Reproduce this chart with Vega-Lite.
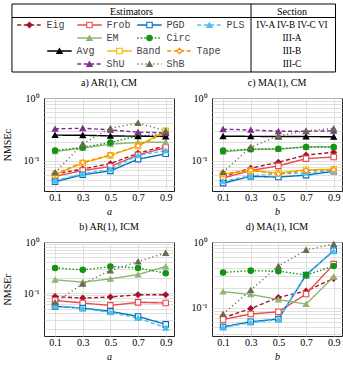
{
  "$schema": "https://vega.github.io/schema/vega-lite/v6.json",
  "padding": {"left": 2, "top": 3, "right": 0, "bottom": 0},
  "datasets": {
    "leg": [
      {"e": "Eig", "s": "IV-A IV-B IV-C VI"},
      {"e": "Frob", "s": "IV-A IV-B IV-C VI"},
      {"e": "PGD", "s": "IV-A IV-B IV-C VI"},
      {"e": "PLS", "s": "IV-A IV-B IV-C VI"},
      {"e": "EM", "s": "III-A"},
      {"e": "Circ", "s": "III-A"},
      {"e": "Avg", "s": "III-B"},
      {"e": "Band", "s": "III-B"},
      {"e": "Tape", "s": "III-B"},
      {"e": "ShU", "s": "III-C"},
      {"e": "ShB", "s": "III-C"}
    ],
    "main": [
      {"p": "a", "e": "Eig", "x": 0.1, "v": 0.062}, {"p": "a", "e": "Eig", "x": 0.3, "v": 0.074}, {"p": "a", "e": "Eig", "x": 0.5, "v": 0.09}, {"p": "a", "e": "Eig", "x": 0.7, "v": 0.132}, {"p": "a", "e": "Eig", "x": 0.9, "v": 0.173},
      {"p": "a", "e": "Frob", "x": 0.1, "v": 0.0565}, {"p": "a", "e": "Frob", "x": 0.3, "v": 0.07}, {"p": "a", "e": "Frob", "x": 0.5, "v": 0.081}, {"p": "a", "e": "Frob", "x": 0.7, "v": 0.124}, {"p": "a", "e": "Frob", "x": 0.9, "v": 0.163},
      {"p": "a", "e": "PGD", "x": 0.1, "v": 0.0464}, {"p": "a", "e": "PGD", "x": 0.3, "v": 0.06}, {"p": "a", "e": "PGD", "x": 0.5, "v": 0.069}, {"p": "a", "e": "PGD", "x": 0.7, "v": 0.106}, {"p": "a", "e": "PGD", "x": 0.9, "v": 0.129},
      {"p": "a", "e": "PLS", "x": 0.1, "v": 0.048}, {"p": "a", "e": "PLS", "x": 0.3, "v": 0.062}, {"p": "a", "e": "PLS", "x": 0.5, "v": 0.073}, {"p": "a", "e": "PLS", "x": 0.7, "v": 0.122}, {"p": "a", "e": "PLS", "x": 0.9, "v": 0.145},
      {"p": "a", "e": "EM", "x": 0.1, "v": 0.141}, {"p": "a", "e": "EM", "x": 0.3, "v": 0.159}, {"p": "a", "e": "EM", "x": 0.5, "v": 0.184}, {"p": "a", "e": "EM", "x": 0.7, "v": 0.196}, {"p": "a", "e": "EM", "x": 0.9, "v": 0.198},
      {"p": "a", "e": "Circ", "x": 0.1, "v": 0.146}, {"p": "a", "e": "Circ", "x": 0.3, "v": 0.163}, {"p": "a", "e": "Circ", "x": 0.5, "v": 0.196}, {"p": "a", "e": "Circ", "x": 0.7, "v": 0.249}, {"p": "a", "e": "Circ", "x": 0.9, "v": 0.262},
      {"p": "a", "e": "Avg", "x": 0.1, "v": 0.256}, {"p": "a", "e": "Avg", "x": 0.3, "v": 0.255}, {"p": "a", "e": "Avg", "x": 0.5, "v": 0.249}, {"p": "a", "e": "Avg", "x": 0.7, "v": 0.246}, {"p": "a", "e": "Avg", "x": 0.9, "v": 0.244},
      {"p": "a", "e": "Band", "x": 0.1, "v": 0.06}, {"p": "a", "e": "Band", "x": 0.3, "v": 0.092}, {"p": "a", "e": "Band", "x": 0.5, "v": 0.122}, {"p": "a", "e": "Band", "x": 0.7, "v": 0.172}, {"p": "a", "e": "Band", "x": 0.9, "v": 0.3},
      {"p": "a", "e": "Tape", "x": 0.1, "v": 0.062}, {"p": "a", "e": "Tape", "x": 0.3, "v": 0.094}, {"p": "a", "e": "Tape", "x": 0.5, "v": 0.124}, {"p": "a", "e": "Tape", "x": 0.7, "v": 0.173}, {"p": "a", "e": "Tape", "x": 0.9, "v": 0.28},
      {"p": "a", "e": "ShU", "x": 0.1, "v": 0.322}, {"p": "a", "e": "ShU", "x": 0.3, "v": 0.33}, {"p": "a", "e": "ShU", "x": 0.5, "v": 0.31}, {"p": "a", "e": "ShU", "x": 0.7, "v": 0.285}, {"p": "a", "e": "ShU", "x": 0.9, "v": 0.278},
      {"p": "a", "e": "ShB", "x": 0.1, "v": 0.065}, {"p": "a", "e": "ShB", "x": 0.3, "v": 0.186}, {"p": "a", "e": "ShB", "x": 0.5, "v": 0.33}, {"p": "a", "e": "ShB", "x": 0.7, "v": 0.4}, {"p": "a", "e": "ShB", "x": 0.9, "v": 0.3},

      {"p": "c", "e": "Eig", "x": 0.1, "v": 0.0565}, {"p": "c", "e": "Eig", "x": 0.3, "v": 0.076}, {"p": "c", "e": "Eig", "x": 0.5, "v": 0.095}, {"p": "c", "e": "Eig", "x": 0.7, "v": 0.123}, {"p": "c", "e": "Eig", "x": 0.9, "v": 0.137},
      {"p": "c", "e": "Frob", "x": 0.1, "v": 0.053}, {"p": "c", "e": "Frob", "x": 0.3, "v": 0.07}, {"p": "c", "e": "Frob", "x": 0.5, "v": 0.083}, {"p": "c", "e": "Frob", "x": 0.7, "v": 0.108}, {"p": "c", "e": "Frob", "x": 0.9, "v": 0.115},
      {"p": "c", "e": "PGD", "x": 0.1, "v": 0.044}, {"p": "c", "e": "PGD", "x": 0.3, "v": 0.0565}, {"p": "c", "e": "PGD", "x": 0.5, "v": 0.055}, {"p": "c", "e": "PGD", "x": 0.7, "v": 0.059}, {"p": "c", "e": "PGD", "x": 0.9, "v": 0.068},
      {"p": "c", "e": "PLS", "x": 0.1, "v": 0.047}, {"p": "c", "e": "PLS", "x": 0.3, "v": 0.058}, {"p": "c", "e": "PLS", "x": 0.5, "v": 0.062}, {"p": "c", "e": "PLS", "x": 0.7, "v": 0.064}, {"p": "c", "e": "PLS", "x": 0.9, "v": 0.07},
      {"p": "c", "e": "EM", "x": 0.1, "v": 0.139}, {"p": "c", "e": "EM", "x": 0.3, "v": 0.152}, {"p": "c", "e": "EM", "x": 0.5, "v": 0.153}, {"p": "c", "e": "EM", "x": 0.7, "v": 0.167}, {"p": "c", "e": "EM", "x": 0.9, "v": 0.167},
      {"p": "c", "e": "Circ", "x": 0.1, "v": 0.145}, {"p": "c", "e": "Circ", "x": 0.3, "v": 0.153}, {"p": "c", "e": "Circ", "x": 0.5, "v": 0.155}, {"p": "c", "e": "Circ", "x": 0.7, "v": 0.165}, {"p": "c", "e": "Circ", "x": 0.9, "v": 0.165},
      {"p": "c", "e": "Avg", "x": 0.1, "v": 0.246}, {"p": "c", "e": "Avg", "x": 0.3, "v": 0.245}, {"p": "c", "e": "Avg", "x": 0.5, "v": 0.243}, {"p": "c", "e": "Avg", "x": 0.7, "v": 0.243}, {"p": "c", "e": "Avg", "x": 0.9, "v": 0.241},
      {"p": "c", "e": "Band", "x": 0.1, "v": 0.0615}, {"p": "c", "e": "Band", "x": 0.3, "v": 0.069}, {"p": "c", "e": "Band", "x": 0.5, "v": 0.064}, {"p": "c", "e": "Band", "x": 0.7, "v": 0.072}, {"p": "c", "e": "Band", "x": 0.9, "v": 0.073},
      {"p": "c", "e": "Tape", "x": 0.1, "v": 0.062}, {"p": "c", "e": "Tape", "x": 0.3, "v": 0.071}, {"p": "c", "e": "Tape", "x": 0.5, "v": 0.062}, {"p": "c", "e": "Tape", "x": 0.7, "v": 0.07}, {"p": "c", "e": "Tape", "x": 0.9, "v": 0.072},
      {"p": "c", "e": "ShU", "x": 0.1, "v": 0.318}, {"p": "c", "e": "ShU", "x": 0.3, "v": 0.31}, {"p": "c", "e": "ShU", "x": 0.5, "v": 0.295}, {"p": "c", "e": "ShU", "x": 0.7, "v": 0.295}, {"p": "c", "e": "ShU", "x": 0.9, "v": 0.3},
      {"p": "c", "e": "ShB", "x": 0.1, "v": 0.066}, {"p": "c", "e": "ShB", "x": 0.3, "v": 0.165}, {"p": "c", "e": "ShB", "x": 0.5, "v": 0.249}, {"p": "c", "e": "ShB", "x": 0.7, "v": 0.3}, {"p": "c", "e": "ShB", "x": 0.9, "v": 0.327},

      {"p": "b", "e": "Eig", "x": 0.1, "v": 0.086}, {"p": "b", "e": "Eig", "x": 0.3, "v": 0.08}, {"p": "b", "e": "Eig", "x": 0.5, "v": 0.084}, {"p": "b", "e": "Eig", "x": 0.7, "v": 0.093}, {"p": "b", "e": "Eig", "x": 0.9, "v": 0.093},
      {"p": "b", "e": "Frob", "x": 0.1, "v": 0.072}, {"p": "b", "e": "Frob", "x": 0.3, "v": 0.064}, {"p": "b", "e": "Frob", "x": 0.5, "v": 0.0575}, {"p": "b", "e": "Frob", "x": 0.7, "v": 0.066}, {"p": "b", "e": "Frob", "x": 0.9, "v": 0.064},
      {"p": "b", "e": "PGD", "x": 0.1, "v": 0.055}, {"p": "b", "e": "PGD", "x": 0.3, "v": 0.051}, {"p": "b", "e": "PGD", "x": 0.5, "v": 0.044}, {"p": "b", "e": "PGD", "x": 0.7, "v": 0.035}, {"p": "b", "e": "PGD", "x": 0.9, "v": 0.0245},
      {"p": "b", "e": "PLS", "x": 0.1, "v": 0.057}, {"p": "b", "e": "PLS", "x": 0.3, "v": 0.05}, {"p": "b", "e": "PLS", "x": 0.5, "v": 0.042}, {"p": "b", "e": "PLS", "x": 0.7, "v": 0.0326}, {"p": "b", "e": "PLS", "x": 0.9, "v": 0.021},
      {"p": "b", "e": "EM", "x": 0.1, "v": 0.182}, {"p": "b", "e": "EM", "x": 0.3, "v": 0.164}, {"p": "b", "e": "EM", "x": 0.5, "v": 0.19}, {"p": "b", "e": "EM", "x": 0.7, "v": 0.231}, {"p": "b", "e": "EM", "x": 0.9, "v": 0.331},
      {"p": "b", "e": "Circ", "x": 0.1, "v": 0.311}, {"p": "b", "e": "Circ", "x": 0.3, "v": 0.285}, {"p": "b", "e": "Circ", "x": 0.5, "v": 0.331}, {"p": "b", "e": "Circ", "x": 0.7, "v": 0.311}, {"p": "b", "e": "Circ", "x": 0.9, "v": 0.245},
      {"p": "b", "e": "ShB", "x": 0.1, "v": 0.066}, {"p": "b", "e": "ShB", "x": 0.3, "v": 0.152}, {"p": "b", "e": "ShB", "x": 0.5, "v": 0.277}, {"p": "b", "e": "ShB", "x": 0.7, "v": 0.415}, {"p": "b", "e": "ShB", "x": 0.9, "v": 0.61},

      {"p": "d", "e": "Eig", "x": 0.1, "v": 0.07}, {"p": "d", "e": "Eig", "x": 0.3, "v": 0.097}, {"p": "d", "e": "Eig", "x": 0.5, "v": 0.143}, {"p": "d", "e": "Eig", "x": 0.7, "v": 0.179}, {"p": "d", "e": "Eig", "x": 0.9, "v": 0.279},
      {"p": "d", "e": "Frob", "x": 0.1, "v": 0.066}, {"p": "d", "e": "Frob", "x": 0.3, "v": 0.08}, {"p": "d", "e": "Frob", "x": 0.5, "v": 0.0865}, {"p": "d", "e": "Frob", "x": 0.7, "v": 0.161}, {"p": "d", "e": "Frob", "x": 0.9, "v": 0.46},
      {"p": "d", "e": "PGD", "x": 0.1, "v": 0.051}, {"p": "d", "e": "PGD", "x": 0.3, "v": 0.061}, {"p": "d", "e": "PGD", "x": 0.5, "v": 0.067}, {"p": "d", "e": "PGD", "x": 0.7, "v": 0.313}, {"p": "d", "e": "PGD", "x": 0.9, "v": 0.74},
      {"p": "d", "e": "PLS", "x": 0.1, "v": 0.05}, {"p": "d", "e": "PLS", "x": 0.3, "v": 0.059}, {"p": "d", "e": "PLS", "x": 0.5, "v": 0.066}, {"p": "d", "e": "PLS", "x": 0.7, "v": 0.32}, {"p": "d", "e": "PLS", "x": 0.9, "v": 0.72},
      {"p": "d", "e": "EM", "x": 0.1, "v": 0.175}, {"p": "d", "e": "EM", "x": 0.3, "v": 0.159}, {"p": "d", "e": "EM", "x": 0.5, "v": 0.133}, {"p": "d", "e": "EM", "x": 0.7, "v": 0.113}, {"p": "d", "e": "EM", "x": 0.9, "v": 0.296},
      {"p": "d", "e": "Circ", "x": 0.1, "v": 0.344}, {"p": "d", "e": "Circ", "x": 0.3, "v": 0.366}, {"p": "d", "e": "Circ", "x": 0.5, "v": 0.36}, {"p": "d", "e": "Circ", "x": 0.7, "v": 0.313}, {"p": "d", "e": "Circ", "x": 0.9, "v": 0.43},
      {"p": "d", "e": "ShB", "x": 0.1, "v": 0.08}, {"p": "d", "e": "ShB", "x": 0.3, "v": 0.185}, {"p": "d", "e": "ShB", "x": 0.5, "v": 0.43}, {"p": "d", "e": "ShB", "x": 0.7, "v": 0.755}, {"p": "d", "e": "ShB", "x": 0.9, "v": 0.93}
    ]
  },
  "data": {"name": "main"},
  "vconcat": [
    {
      "data": {"name": "leg"},
      "width": 292,
      "height": 68,
      "view": {"stroke": null},
      "transform": [
        {"window": [{"op": "row_number", "as": "r"}], "groupby": ["s"]},
        {"joinaggregate": [{"op": "count", "as": "n"}], "groupby": ["s"]},
        {"calculate": "datum.r - (datum.n + 1) / 2", "as": "k"}
      ],
      "layer": [
        {
          "mark": {"type": "point", "shape": "M-1,0L1,0", "size": 600, "strokeWidth": 1.5, "filled": false, "opacity": 1},
          "encoding": {
            "x": {"field": "k", "type": "quantitative", "scale": {"domain": [-1.258, 3.608], "nice": false, "zero": false}, "axis": null},
            "y": {"field": "s", "type": "ordinal", "scale": {"type": "point", "domain": ["H", "IV-A IV-B IV-C VI", "III-A", "III-B", "III-C"], "padding": 0.615}, "axis": null},
            "stroke": {"field": "e", "type": "nominal", "legend": null, "scale": {"domain": ["Eig","Frob","PGD","PLS","EM","Circ","Avg","Band","Tape","ShU","ShB"], "range": ["#a2142f","#ec4b4b","#0072bd","#4dbeee","#8fb573","#129412","#000000","#f5b800","#fb8c00","#7e2f8e","#6b6b4f"]}},
            "strokeDash": {"field": "e", "type": "nominal", "legend": null, "scale": {"domain": ["Eig","Frob","PGD","PLS","EM","Circ","Avg","Band","Tape","ShU","ShB"], "range": [[4,2.5],[1,0],[1,0],[4,2.5],[1,0],[1.5,2],[1,0],[1,0],[4,2.5],[4,2.5],[1.2,2.8]]}}
          }
        },
        {
          "mark": {"type": "point", "filled": true, "size": 30, "strokeWidth": 1.1, "opacity": 1},
          "encoding": {
            "x": {"field": "k", "type": "quantitative", "scale": {"domain": [-1.258, 3.608], "nice": false, "zero": false}, "axis": null},
            "y": {"field": "s", "type": "ordinal", "scale": {"type": "point", "domain": ["H", "IV-A IV-B IV-C VI", "III-A", "III-B", "III-C"], "padding": 0.615}, "axis": null},
            "stroke": {"field": "e", "type": "nominal", "legend": null, "scale": {"domain": ["Eig","Frob","PGD","PLS","EM","Circ","Avg","Band","Tape","ShU","ShB"], "range": ["#a2142f","#ec4b4b","#0072bd","#4dbeee","#8fb573","#129412","#000000","#f5b800","#fb8c00","#7e2f8e","#6b6b4f"]}},
            "fill": {"field": "e", "type": "nominal", "legend": null, "scale": {"domain": ["Eig","Frob","PGD","PLS","EM","Circ","Avg","Band","Tape","ShU","ShB"], "range": ["#a2142f","#ffffff","#ffffff","#4dbeee","#8fb573","#129412","#000000","#ffffff","#ffffff","#7e2f8e","#6b6b4f"]}},
            "shape": {"field": "e", "type": "nominal", "legend": null, "scale": {"domain": ["Eig","Frob","PGD","PLS","EM","Circ","Avg","Band","Tape","ShU","ShB"], "range": ["diamond","square","square","triangle-up","triangle-up","circle","triangle-up","square","diamond","triangle-up","triangle-up"]}}
          }
        },
        {
          "mark": {"type": "text", "align": "left", "baseline": "middle", "dx": 17, "font": "Liberation Mono", "fontSize": 10, "fill": "#444"},
          "encoding": {
            "x": {"field": "k", "type": "quantitative", "scale": {"domain": [-1.258, 3.608], "nice": false, "zero": false}, "axis": null},
            "y": {"field": "s", "type": "ordinal", "scale": {"type": "point", "domain": ["H", "IV-A IV-B IV-C VI", "III-A", "III-B", "III-C"], "padding": 0.615}, "axis": null},
            "text": {"field": "e"}
          }
        },
        {
          "transform": [{"filter": "datum.r == 1"}],
          "mark": {"type": "text", "align": "center", "baseline": "middle", "font": "Liberation Serif", "fontSize": 9.3, "fill": "#000"},
          "encoding": {
            "x": {"datum": 2.875, "type": "quantitative"},
            "y": {"field": "s", "type": "ordinal"},
            "text": {"field": "s"}
          }
        },
        {
          "data": {"values": [{}]},
          "mark": {"type": "text", "text": "Estimators", "align": "center", "baseline": "middle", "font": "Liberation Serif", "fontSize": 10, "fill": "#000"},
          "encoding": {"x": {"datum": 0.2, "type": "quantitative"}, "y": {"datum": "H", "type": "ordinal"}}
        },
        {
          "data": {"values": [{}]},
          "mark": {"type": "text", "text": "Section", "align": "center", "baseline": "middle", "font": "Liberation Serif", "fontSize": 10, "fill": "#000"},
          "encoding": {"x": {"datum": 2.875, "type": "quantitative"}, "y": {"datum": "H", "type": "ordinal"}}
        },
        {
          "data": {"values": [{}]},
          "mark": {"type": "rule", "yOffset": 5.5, "stroke": "#000", "strokeWidth": 1},
          "encoding": {"x": {"datum": -1.792, "type": "quantitative"}, "x2": {"datum": 3.608}, "y": {"datum": "H", "type": "ordinal"}}
        },
        {
          "data": {"values": [{}]},
          "mark": {"type": "rule", "stroke": "#000", "strokeWidth": 1},
          "encoding": {"x": {"datum": 2.192, "type": "quantitative"}}
        },
        {
          "data": {"values": [{}]},
          "mark": {"type": "rule", "stroke": "#000", "strokeWidth": 1},
          "encoding": {"x": {"datum": -1.792, "type": "quantitative"}}
        },
        {
          "data": {"values": [{}]},
          "mark": {"type": "rule", "stroke": "#000", "strokeWidth": 1},
          "encoding": {"x": {"datum": 3.6, "type": "quantitative"}}
        },
        {
          "data": {"values": [{}]},
          "mark": {"type": "rule", "stroke": "#000", "strokeWidth": 1},
          "encoding": {"x": {"datum": -1.792, "type": "quantitative"}, "x2": {"datum": 3.6}, "y": {"value": 0}}
        },
        {
          "data": {"values": [{}]},
          "mark": {"type": "rule", "stroke": "#000", "strokeWidth": 1},
          "encoding": {"x": {"datum": -1.792, "type": "quantitative"}, "x2": {"datum": 3.6}, "y": {"value": 68}}
        }
      ]
    },
    {
      "hconcat": [
        {
          "width": 130, "height": 93,
          "title": "a) AR(1), CM",
          "transform": [{"filter": "datum.p == 'a'"}],
          "encoding": {
            "x": {"field": "x", "type": "quantitative", "scale": {"domain": [0.02, 0.96], "nice": false, "zero": false}, "axis": {"values": [0.1, 0.3, 0.5, 0.7, 0.9], "format": ".1f", "title": "a", "titleFontStyle": "italic", "labelPadding": 1, "titlePadding": 4}},
            "y": {"field": "v", "type": "quantitative", "scale": {"type": "log", "domain": [0.033, 1], "nice": false}, "axis": {"values": [0.04,0.05,0.06,0.07,0.08,0.09,0.1,0.2,0.3,0.4,0.5,0.6,0.7,0.8,0.9,1], "labelExpr": "datum.value == 1 ? '10⁰' : datum.value == 0.1 ? '10⁻¹' : ''", "title": "NMSEᴄ", "labelPadding": 5, "titlePadding": 7.5, "minExtent": 24, "maxExtent": 24}},
            "stroke": {"field": "e", "type": "nominal", "legend": null, "scale": {"domain": ["Eig","Frob","PGD","PLS","EM","Circ","Avg","Band","Tape","ShU","ShB"], "range": ["#a2142f","#ec4b4b","#0072bd","#4dbeee","#8fb573","#129412","#000000","#f5b800","#fb8c00","#7e2f8e","#6b6b4f"]}}
          },
          "layer": [
            {"mark": {"type": "line", "strokeWidth": 1.4}, "encoding": {"strokeDash": {"field": "e", "type": "nominal", "legend": null, "scale": {"domain": ["Eig","Frob","PGD","PLS","EM","Circ","Avg","Band","Tape","ShU","ShB"], "range": [[4,2.5],[1,0],[1,0],[4,2.5],[1,0],[1.5,2],[1,0],[1,0],[4,2.5],[4,2.5],[1.2,2.8]]}}}},
            {"mark": {"type": "point", "filled": true, "size": 30, "strokeWidth": 1.1, "opacity": 1}, "encoding": {
              "fill": {"field": "e", "type": "nominal", "legend": null, "scale": {"domain": ["Eig","Frob","PGD","PLS","EM","Circ","Avg","Band","Tape","ShU","ShB"], "range": ["#a2142f","#ffffff","#ffffff","#4dbeee","#8fb573","#129412","#000000","#ffffff","#ffffff","#7e2f8e","#6b6b4f"]}},
              "shape": {"field": "e", "type": "nominal", "legend": null, "scale": {"domain": ["Eig","Frob","PGD","PLS","EM","Circ","Avg","Band","Tape","ShU","ShB"], "range": ["diamond","square","square","triangle-up","triangle-up","circle","triangle-up","square","diamond","triangle-up","triangle-up"]}}}}
          ]
        },
        {
          "width": 130, "height": 93,
          "title": "c) MA(1), CM",
          "transform": [{"filter": "datum.p == 'c'"}],
          "encoding": {
            "x": {"field": "x", "type": "quantitative", "scale": {"domain": [0.02, 0.96], "nice": false, "zero": false}, "axis": {"values": [0.1, 0.3, 0.5, 0.7, 0.9], "format": ".1f", "title": "b", "titleFontStyle": "italic", "labelPadding": 1, "titlePadding": 4}},
            "y": {"field": "v", "type": "quantitative", "scale": {"type": "log", "domain": [0.033, 1], "nice": false}, "axis": {"values": [0.04,0.05,0.06,0.07,0.08,0.09,0.1,0.2,0.3,0.4,0.5,0.6,0.7,0.8,0.9,1], "labelExpr": "datum.value == 1 ? '10⁰' : datum.value == 0.1 ? '10⁻¹' : ''", "title": null, "labelPadding": 5, "minExtent": 24, "maxExtent": 24}},
            "stroke": {"field": "e", "type": "nominal", "legend": null, "scale": {"domain": ["Eig","Frob","PGD","PLS","EM","Circ","Avg","Band","Tape","ShU","ShB"], "range": ["#a2142f","#ec4b4b","#0072bd","#4dbeee","#8fb573","#129412","#000000","#f5b800","#fb8c00","#7e2f8e","#6b6b4f"]}}
          },
          "layer": [
            {"mark": {"type": "line", "strokeWidth": 1.4}, "encoding": {"strokeDash": {"field": "e", "type": "nominal", "legend": null, "scale": {"domain": ["Eig","Frob","PGD","PLS","EM","Circ","Avg","Band","Tape","ShU","ShB"], "range": [[4,2.5],[1,0],[1,0],[4,2.5],[1,0],[1.5,2],[1,0],[1,0],[4,2.5],[4,2.5],[1.2,2.8]]}}}},
            {"mark": {"type": "point", "filled": true, "size": 30, "strokeWidth": 1.1, "opacity": 1}, "encoding": {
              "fill": {"field": "e", "type": "nominal", "legend": null, "scale": {"domain": ["Eig","Frob","PGD","PLS","EM","Circ","Avg","Band","Tape","ShU","ShB"], "range": ["#a2142f","#ffffff","#ffffff","#4dbeee","#8fb573","#129412","#000000","#ffffff","#ffffff","#7e2f8e","#6b6b4f"]}},
              "shape": {"field": "e", "type": "nominal", "legend": null, "scale": {"domain": ["Eig","Frob","PGD","PLS","EM","Circ","Avg","Band","Tape","ShU","ShB"], "range": ["diamond","square","square","triangle-up","triangle-up","circle","triangle-up","square","diamond","triangle-up","triangle-up"]}}}}
          ]
        }
      ],
      "spacing": 12
    },
    {
      "hconcat": [
        {
          "width": 130, "height": 94,
          "title": "b) AR(1), ICM",
          "transform": [{"filter": "datum.p == 'b'"}],
          "encoding": {
            "x": {"field": "x", "type": "quantitative", "scale": {"domain": [0.02, 0.96], "nice": false, "zero": false}, "axis": {"values": [0.1, 0.3, 0.5, 0.7, 0.9], "format": ".1f", "title": "a", "titleFontStyle": "italic", "labelPadding": 1, "titlePadding": 4}},
            "y": {"field": "v", "type": "quantitative", "scale": {"type": "log", "domain": [0.0145, 1], "nice": false}, "axis": {"values": [0.02,0.03,0.04,0.05,0.06,0.07,0.08,0.09,0.1,0.2,0.3,0.4,0.5,0.6,0.7,0.8,0.9,1], "labelExpr": "datum.value == 1 ? '10⁰' : datum.value == 0.1 ? '10⁻¹' : ''", "title": "NMSEᴦ", "labelPadding": 5, "titlePadding": 7.5, "minExtent": 24, "maxExtent": 24}},
            "stroke": {"field": "e", "type": "nominal", "legend": null, "scale": {"domain": ["Eig","Frob","PGD","PLS","EM","Circ","Avg","Band","Tape","ShU","ShB"], "range": ["#a2142f","#ec4b4b","#0072bd","#4dbeee","#8fb573","#129412","#000000","#f5b800","#fb8c00","#7e2f8e","#6b6b4f"]}}
          },
          "layer": [
            {"mark": {"type": "line", "strokeWidth": 1.4}, "encoding": {"strokeDash": {"field": "e", "type": "nominal", "legend": null, "scale": {"domain": ["Eig","Frob","PGD","PLS","EM","Circ","Avg","Band","Tape","ShU","ShB"], "range": [[4,2.5],[1,0],[1,0],[4,2.5],[1,0],[1.5,2],[1,0],[1,0],[4,2.5],[4,2.5],[1.2,2.8]]}}}},
            {"mark": {"type": "point", "filled": true, "size": 30, "strokeWidth": 1.1, "opacity": 1}, "encoding": {
              "fill": {"field": "e", "type": "nominal", "legend": null, "scale": {"domain": ["Eig","Frob","PGD","PLS","EM","Circ","Avg","Band","Tape","ShU","ShB"], "range": ["#a2142f","#ffffff","#ffffff","#4dbeee","#8fb573","#129412","#000000","#ffffff","#ffffff","#7e2f8e","#6b6b4f"]}},
              "shape": {"field": "e", "type": "nominal", "legend": null, "scale": {"domain": ["Eig","Frob","PGD","PLS","EM","Circ","Avg","Band","Tape","ShU","ShB"], "range": ["diamond","square","square","triangle-up","triangle-up","circle","triangle-up","square","diamond","triangle-up","triangle-up"]}}}}
          ]
        },
        {
          "width": 130, "height": 94,
          "title": "d) MA(1), ICM",
          "transform": [{"filter": "datum.p == 'd'"}],
          "encoding": {
            "x": {"field": "x", "type": "quantitative", "scale": {"domain": [0.02, 0.96], "nice": false, "zero": false}, "axis": {"values": [0.1, 0.3, 0.5, 0.7, 0.9], "format": ".1f", "title": "b", "titleFontStyle": "italic", "labelPadding": 1, "titlePadding": 4}},
            "y": {"field": "v", "type": "quantitative", "scale": {"type": "log", "domain": [0.037, 1], "nice": false}, "axis": {"values": [0.04,0.05,0.06,0.07,0.08,0.09,0.1,0.2,0.3,0.4,0.5,0.6,0.7,0.8,0.9,1], "labelExpr": "datum.value == 1 ? '10⁰' : datum.value == 0.1 ? '10⁻¹' : ''", "title": null, "labelPadding": 5, "minExtent": 24, "maxExtent": 24}},
            "stroke": {"field": "e", "type": "nominal", "legend": null, "scale": {"domain": ["Eig","Frob","PGD","PLS","EM","Circ","Avg","Band","Tape","ShU","ShB"], "range": ["#a2142f","#ec4b4b","#0072bd","#4dbeee","#8fb573","#129412","#000000","#f5b800","#fb8c00","#7e2f8e","#6b6b4f"]}}
          },
          "layer": [
            {"mark": {"type": "line", "strokeWidth": 1.4}, "encoding": {"strokeDash": {"field": "e", "type": "nominal", "legend": null, "scale": {"domain": ["Eig","Frob","PGD","PLS","EM","Circ","Avg","Band","Tape","ShU","ShB"], "range": [[4,2.5],[1,0],[1,0],[4,2.5],[1,0],[1.5,2],[1,0],[1,0],[4,2.5],[4,2.5],[1.2,2.8]]}}}},
            {"mark": {"type": "point", "filled": true, "size": 30, "strokeWidth": 1.1, "opacity": 1}, "encoding": {
              "fill": {"field": "e", "type": "nominal", "legend": null, "scale": {"domain": ["Eig","Frob","PGD","PLS","EM","Circ","Avg","Band","Tape","ShU","ShB"], "range": ["#a2142f","#ffffff","#ffffff","#4dbeee","#8fb573","#129412","#000000","#ffffff","#ffffff","#7e2f8e","#6b6b4f"]}},
              "shape": {"field": "e", "type": "nominal", "legend": null, "scale": {"domain": ["Eig","Frob","PGD","PLS","EM","Circ","Avg","Band","Tape","ShU","ShB"], "range": ["diamond","square","square","triangle-up","triangle-up","circle","triangle-up","square","diamond","triangle-up","triangle-up"]}}}}
          ]
        }
      ],
      "spacing": 12
    }
  ],
  "spacing": 4,
  "config": {
    "font": "Liberation Serif",
    "view": {"stroke": "#222", "strokeWidth": 1},
    "axis": {"labelFont": "Liberation Serif", "labelFontSize": 10, "labelColor": "#000", "titleFont": "Liberation Serif", "titleFontSize": 10, "titleFontWeight": "normal", "titleColor": "#000", "gridColor": "#d8d8d8", "gridWidth": 0.8, "domain": false, "ticks": false, "labelOverlap": false, "labelFlush": false},
    "title": {"font": "Liberation Serif", "fontSize": 10, "fontWeight": "normal", "color": "#000", "frame": "group", "offset": 5}
  }
}
